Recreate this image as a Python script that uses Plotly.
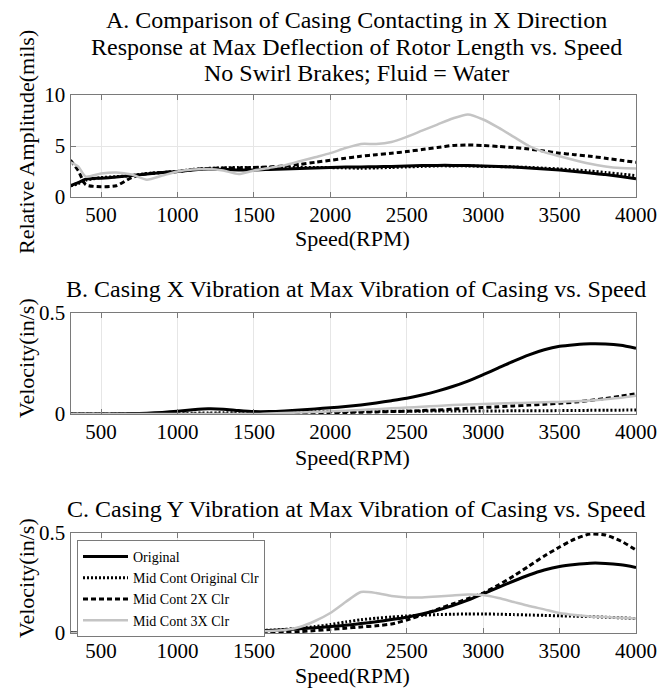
import plotly.graph_objects as go

speed = [300, 350, 400, 500, 600, 700, 800, 900, 1000, 1100, 1200, 1300, 1400, 1500,
         1600, 1700, 1800, 1900, 2000, 2100, 2200, 2300, 2400, 2500, 2600, 2700, 2800,
         2900, 3000, 3100, 3200, 3300, 3400, 3500, 3600, 3700, 3800, 3900, 4000]

series_names = ["Original", "Mid Cont Original Clr", "Mid Cont 2X Clr", "Mid Cont 3X Clr"]

# Panel A: relative amplitude (mils)
a_original = [1.1, 1.4, 1.75, 1.85, 1.95, 2.1, 2.25, 2.4, 2.5, 2.65, 2.75, 2.7, 2.65, 2.65,
              2.7, 2.75, 2.8, 2.85, 2.9, 2.93, 2.95, 2.97, 3.0, 3.05, 3.08, 3.1, 3.1,
              3.08, 3.05, 3.0, 2.93, 2.85, 2.75, 2.65, 2.5, 2.35, 2.2, 2.0, 1.8]
a_mid_orig = [1.1, 1.3, 1.65, 1.9, 2.0, 2.1, 2.3, 2.4, 2.5, 2.7, 2.8, 2.85, 2.9, 2.9,
              2.9, 2.9, 2.9, 2.9, 2.88, 2.85, 2.82, 2.85, 2.9, 2.95, 3.0, 3.05, 3.05,
              3.05, 3.0, 2.98, 2.95, 2.9, 2.82, 2.75, 2.65, 2.55, 2.4, 2.25, 2.1]
a_mid_2x = [3.6, 2.6, 1.2, 1.0, 1.1, 1.9, 2.3, 2.4, 2.5, 2.7, 2.8, 2.85, 2.85, 2.9,
            2.95, 3.05, 3.2, 3.4, 3.6, 3.8, 4.0, 4.15, 4.3, 4.45, 4.65, 4.85, 5.05,
            5.1, 5.05, 4.95, 4.85, 4.7, 4.5, 4.3, 4.15, 4.0, 3.8, 3.6, 3.4]
a_mid_3x = [3.4, 3.0, 2.0, 2.3, 2.4, 2.2, 1.7, 2.1, 2.5, 2.7, 2.75, 2.6, 2.25, 2.6,
            2.85, 3.1, 3.5, 3.9, 4.3, 4.8, 5.2, 5.2, 5.4, 5.9, 6.5, 7.1, 7.7,
            8.1, 7.6, 6.8, 5.9, 5.0, 4.4, 4.0, 3.6, 3.25, 3.0, 2.85, 2.8]

# Panel B: casing X velocity (in/s)
b_original = [0, 0, 0, 0, 0.001, 0.002, 0.004, 0.008, 0.014, 0.021, 0.026, 0.024, 0.017, 0.012,
              0.012, 0.015, 0.02, 0.025, 0.031, 0.037, 0.045, 0.055, 0.066, 0.078, 0.094, 0.113, 0.136,
              0.163, 0.195, 0.228, 0.262, 0.293, 0.318, 0.335, 0.343, 0.348, 0.347, 0.34, 0.325]
b_mid_orig = [0, 0, 0, 0, 0, 0, 0.001, 0.002, 0.003, 0.004, 0.005, 0.006, 0.006, 0.007,
              0.008, 0.009, 0.01, 0.011, 0.012, 0.012, 0.013, 0.013, 0.014, 0.014, 0.014, 0.015, 0.015,
              0.015, 0.015, 0.015, 0.016, 0.016, 0.016, 0.017, 0.017, 0.018, 0.018, 0.019, 0.02]
b_mid_2x = [0, 0, 0, 0, 0, 0, 0, 0, 0, 0, 0, 0, 0, 0,
            0.002, 0.003, 0.004, 0.005, 0.006, 0.0075, 0.009, 0.0105, 0.012, 0.014, 0.017, 0.02, 0.024,
            0.028, 0.032, 0.036, 0.04, 0.044, 0.048, 0.053, 0.059, 0.067, 0.077, 0.088, 0.1]
b_mid_3x = [0, 0, 0, 0, 0, 0, 0, 0, 0, 0, 0, 0, 0, 0,
            0.003, 0.005, 0.008, 0.01, 0.013, 0.016, 0.02, 0.024, 0.028, 0.032, 0.036, 0.04, 0.044,
            0.047, 0.05, 0.052, 0.054, 0.056, 0.058, 0.06, 0.063, 0.067, 0.073, 0.08, 0.09]

# Panel C: casing Y velocity (in/s)
c_original = [0, 0, 0, 0, 0, 0.001, 0.003, 0.007, 0.013, 0.02, 0.027, 0.025, 0.018, 0.013,
              0.013, 0.016, 0.021, 0.026, 0.032, 0.039, 0.047, 0.056, 0.067, 0.079, 0.095, 0.114, 0.137,
              0.164, 0.196, 0.228, 0.26, 0.29, 0.315, 0.333, 0.343, 0.349, 0.348, 0.341, 0.328]
c_mid_orig = [0, 0, 0, 0, 0, 0.001, 0.003, 0.008, 0.015, 0.025, 0.036, 0.035, 0.022, 0.014,
              0.014, 0.018, 0.024, 0.032, 0.042, 0.055, 0.066, 0.074, 0.08, 0.085, 0.089, 0.092, 0.094,
              0.095, 0.095, 0.094, 0.092, 0.09, 0.088, 0.086, 0.084, 0.082, 0.079, 0.076, 0.072]
c_mid_2x = [0, 0, 0, 0, 0, 0, 0, 0, 0, 0, 0, 0, 0, 0,
            0.001, 0.003, 0.007, 0.012, 0.018, 0.024, 0.03, 0.036, 0.045, 0.065, 0.09, 0.118, 0.145,
            0.172, 0.2, 0.24, 0.285, 0.335, 0.385, 0.43, 0.47, 0.495, 0.49, 0.46, 0.415]
c_mid_3x = [0, 0, 0, 0, 0, 0.001, 0.002, 0.004, 0.007, 0.01, 0.012, 0.012, 0.01, 0.009,
            0.01, 0.015, 0.03, 0.06, 0.1, 0.155, 0.205, 0.2, 0.185, 0.178, 0.178, 0.182, 0.188,
            0.193, 0.19, 0.175, 0.155, 0.135, 0.118, 0.1, 0.09, 0.083, 0.08, 0.076, 0.072]

panel_titles = ["A. Comparison of Casing Contacting in X Direction",
                "Response at Max Deflection of Rotor Length vs. Speed",
                "No Swirl Brakes; Fluid = Water",
                "B. Casing X Vibration at Max Vibration of Casing vs. Speed",
                "C. Casing Y Vibration at Max Vibration of Casing vs. Speed"]
x_title = "Speed(RPM)"
y_titles = ["Relative Amplitude(mils)", "Velocity(in/s)", "Velocity(in/s)"]
x_ticks = [500, 1000, 1500, 2000, 2500, 3000, 3500, 4000]
a_ticks = [0, 5, 10]
bc_ticks = [0, 0.5]

W, H = 660, 689
FONT = "Liberation Serif, Times New Roman, serif"
styles = [
    dict(color="#000000", width=3, dash="solid"),
    dict(color="#000000", width=3, dash="2px,2px"),
    dict(color="#000000", width=3, dash="5px,3px"),
    dict(color="#c4c4c4", width=2.5, dash="solid"),
]

panels = [
    ("x", "y", [a_original, a_mid_orig, a_mid_2x, a_mid_3x], False),
    ("x2", "y2", [b_original, b_mid_orig, b_mid_2x, b_mid_3x], False),
    ("x3", "y3", [c_original, c_mid_orig, c_mid_2x, c_mid_3x], True),
]

fig = go.Figure()
for xa, ya, data, show in panels:
    for name, vals, st in zip(series_names, data, styles):
        assert len(vals) == len(speed)
        fig.add_trace(go.Scatter(x=speed, y=vals, mode="lines", name=name,
                                 line=dict(color=st["color"], width=st["width"],
                                           dash=st["dash"], shape="spline", smoothing=0.6),
                                 xaxis=xa, yaxis=ya, showlegend=show, hoverinfo="skip"))

px = lambda v: v / W
py = lambda v: 1 - v / H

xdom = [px(70.5), px(636)]
ydoms = [[py(197), py(95)], [py(414), py(313)], [py(633), py(533)]]

axis_common = dict(showline=True, mirror="ticks", linecolor="#7a7a7a", linewidth=1,
                   ticks="inside", ticklen=5, tickcolor="#7a7a7a",
                   showgrid=True, gridcolor="#e6e6e6", gridwidth=1, zeroline=False,
                   tickfont=dict(family=FONT, size=21, color="#000"))

layout = dict(width=W, height=H, margin=dict(l=0, r=0, t=0, b=0),
              paper_bgcolor="white", plot_bgcolor="white",
              font=dict(family=FONT, color="#000"))
for i, (xa, ya, _, _) in enumerate(panels):
    xk = "xaxis" if i == 0 else f"xaxis{i+1}"
    yk = "yaxis" if i == 0 else f"yaxis{i+1}"
    layout[xk] = dict(axis_common, domain=xdom, range=[300, 4000], tickvals=x_ticks,
                      anchor=ya, automargin=False, ticklabelstandoff=-1)
    if i == 0:
        layout[yk] = dict(axis_common, domain=ydoms[i], range=[0, 10], tickvals=a_ticks,
                          anchor=xa, automargin=False)
    else:
        layout[yk] = dict(axis_common, domain=ydoms[i], range=[0, 0.5], tickvals=bc_ticks,
                          ticktext=["0", "0.5"], anchor=xa, automargin=False)

fig.update_layout(**layout)

ann = []
tcx = px(356)
TS = 24
for t, yc in zip(panel_titles[:3], [20, 47, 73]):
    ann.append(dict(text=t, x=tcx, y=py(yc), xref="paper", yref="paper",
                    xanchor="center", yanchor="middle", showarrow=False,
                    font=dict(family=FONT, size=TS)))
ann.append(dict(text=panel_titles[3], x=tcx, y=py(289), xref="paper", yref="paper",
                xanchor="center", yanchor="middle", showarrow=False, font=dict(family=FONT, size=TS)))
ann.append(dict(text=panel_titles[4], x=tcx, y=py(509), xref="paper", yref="paper",
                xanchor="center", yanchor="middle", showarrow=False, font=dict(family=FONT, size=TS)))
for yc in [239, 457, 675]:
    ann.append(dict(text=x_title, x=px(353), y=py(yc), xref="paper", yref="paper",
                    xanchor="center", yanchor="middle", showarrow=False, font=dict(family=FONT, size=22)))
for t, yc in zip(y_titles, [142, 358, 578]):
    ann.append(dict(text=t, x=px(26), y=py(yc), xref="paper", yref="paper", textangle=-90,
                    xanchor="center", yanchor="middle", showarrow=False, font=dict(family=FONT, size=22)))
fig.update_layout(annotations=ann)

fig.update_layout(legend=dict(x=px(77), y=py(540), xanchor="left", yanchor="top",
                              bgcolor="white", bordercolor="#7a7a7a", borderwidth=1,
                              font=dict(family=FONT, size=14, color="#000"),
                              itemwidth=45, tracegroupgap=0, traceorder="normal"))

fig.write_html("out.html")
